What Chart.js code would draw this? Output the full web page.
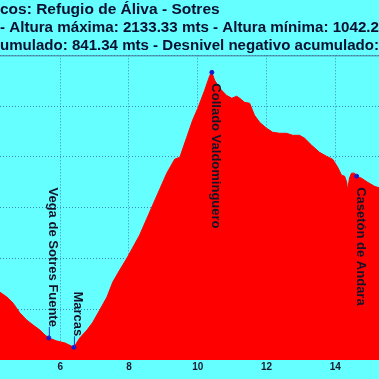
<!DOCTYPE html>
<html lang="es">
<head>
    <meta charset="UTF-8">
    <meta name="viewport" content="width=device-width, initial-scale=1.0">
    <title>Perfil: Refugio de Áliva - Sotres</title>
    <script src="https://cdn.jsdelivr.net/npm/chart.js"></script>
    <style>
        html, body { margin: 0; padding: 0; background: #66ffff; }
        .chart-box { position: relative; width: 379px; height: 379px; overflow: hidden; }
    </style>
</head>
<body>
    <div class="chart-box">
        <canvas id="perfilChart"></canvas>
    </div>

    <script>
        // Título (recortado como en la imagen)
        const tituloLineas = [
            'cos: Refugio de Áliva - Sotres',
            '- Altura máxima: 2133.33 mts - Altura mínima: 1042.2',
            'umulado: 841.34 mts - Desnivel negativo acumulado:'
        ];

        // Perfil: distancia (km) y altitud (m)
        const distancias = [4.20, 4.25, 4.45, 4.63, 4.83, 5.03, 5.21, 5.41, 5.56, 5.67, 5.90, 6.14, 6.40,
            6.57, 6.78, 6.95, 7.15, 7.36, 7.53, 7.73, 7.94, 8.31, 8.69, 9.10, 9.33, 9.48, 9.68, 9.85,
            10.00, 10.20, 10.35, 10.41, 10.49, 10.64, 10.84, 10.99, 11.13, 11.22, 11.36, 11.51, 11.65,
            11.80, 12.00, 12.18, 12.38, 12.58, 12.76, 12.96, 13.11, 13.31, 13.54, 13.75, 13.92, 14.07,
            14.18, 14.27, 14.33, 14.36, 14.41, 14.47, 14.56, 14.62, 14.76, 14.94, 15.14, 15.30];
        const altitudes = [1272, 1267, 1248, 1224, 1185, 1157, 1138, 1118, 1098, 1087, 1075, 1067, 1050,
            1087, 1118, 1149, 1197, 1248, 1307, 1354, 1401, 1492, 1610, 1736, 1791, 1799, 1877, 1944,
            1991, 2062, 2121, 2133, 2102, 2070, 2042, 2031, 2039, 2031, 2015, 2011, 1964,
            1936, 1913, 1897, 1893, 1893, 1885, 1885, 1873, 1846, 1818, 1802, 1791, 1759,
            1728, 1724, 1700, 1669, 1716, 1736, 1736, 1724, 1716, 1700, 1684, 1677];

        // Puntos de paso
        const pasoNombres = ['Vega de Sotres Fuente', 'Marcas', 'Collado Valdominguero', 'Casetón de Andara'];
        const pasoKm = [5.67, 6.40, 10.41, 14.62];
        const pasoAltura = [1087, 1050, 2133, 1724];

        const fuente = '"Liberation Sans", Arial, sans-serif';
        const colorRejilla = 'rgba(30, 60, 140, 0.6)';

        // Etiquetas verticales de los puntos de paso + marco superior
        const etiquetasPaso = {
            id: 'etiquetasPaso',
            afterDraw(chart) {
                const { ctx, chartArea, scales: { x, y } } = chart;
                ctx.save();
                ctx.strokeStyle = '#4a7896';
                ctx.lineWidth = 1;
                ctx.beginPath();
                ctx.moveTo(chartArea.left, chartArea.top + 0.5);
                ctx.lineTo(chartArea.right, chartArea.top + 0.5);
                ctx.stroke();

                ctx.font = 'bold 13px ' + fuente;
                ctx.fillStyle = '#141428';
                pasoNombres.forEach((nombre, i) => {
                    const px = x.getPixelForValue(pasoKm[i]);
                    const py = y.getPixelForValue(pasoAltura[i]);
                    const arriba = pasoAltura[i] < 1400;
                    if (arriba) {
                        ctx.strokeStyle = '#2233cc';
                        ctx.beginPath();
                        ctx.moveTo(px + 0.5, py);
                        ctx.lineTo(px + 0.5, py - 11);
                        ctx.stroke();
                    }
                    ctx.save();
                    ctx.translate(px, arriba ? py - 11 : py + 11);
                    ctx.rotate(Math.PI / 2);
                    ctx.textAlign = arriba ? 'right' : 'left';
                    ctx.textBaseline = 'alphabetic';
                    ctx.fillText(nombre, 0, 0);
                    ctx.restore();
                });
                ctx.restore();
            }
        };

        const ctx = document.getElementById('perfilChart').getContext('2d');
        const chart = new Chart(ctx, {
            type: 'line',
            data: {
                datasets: [{
                    label: 'Perfil',
                    data: distancias.map((d, i) => ({ x: d, y: altitudes[i] })),
                    borderColor: '#ff0000',
                    backgroundColor: '#ff0000',
                    borderWidth: 1,
                    fill: 'start',
                    pointRadius: 0,
                    tension: 0,
                    order: 2
                }, {
                    label: 'Puntos de paso',
                    data: pasoKm.map((d, i) => ({ x: d, y: pasoAltura[i] })),
                    showLine: false,
                    pointRadius: 2,
                    pointBackgroundColor: '#1a1acc',
                    pointBorderColor: '#1a1acc',
                    order: 1
                }]
            },
            options: {
                responsive: true,
                maintainAspectRatio: false,
                animation: false,
                layout: { autoPadding: false, padding: { left: 0, right: 0, top: 0, bottom: 5 } },
                scales: {
                    x: {
                        type: 'linear',
                        min: 4.25,
                        max: 15.27,
                        z: 1,
                        ticks: {
                            stepSize: 2,
                            includeBounds: false,
                            padding: 1,
                            color: '#1a1a2e',
                            font: { family: fuente, size: 10, weight: 'bold' }
                        },
                        grid: { color: colorRejilla, drawTicks: false },
                        border: { display: false, dash: [1, 2] }
                    },
                    y: {
                        min: 1000,
                        max: 2200,
                        z: 1,
                        ticks: { stepSize: 200, display: false },
                        grid: { color: colorRejilla, drawTicks: false },
                        border: { display: false, dash: [1, 2] }
                    }
                },
                plugins: {
                    legend: { display: false },
                    tooltip: { enabled: false },
                    title: {
                        display: true,
                        text: tituloLineas,
                        align: 'start',
                        color: '#0a1030',
                        padding: { top: 0, bottom: 0 },
                        font: { family: fuente, size: 15.5, weight: 'bold', lineHeight: 1.19 }
                    }
                }
            },
            plugins: [etiquetasPaso]
        });
    </script>
</body>
</html>
